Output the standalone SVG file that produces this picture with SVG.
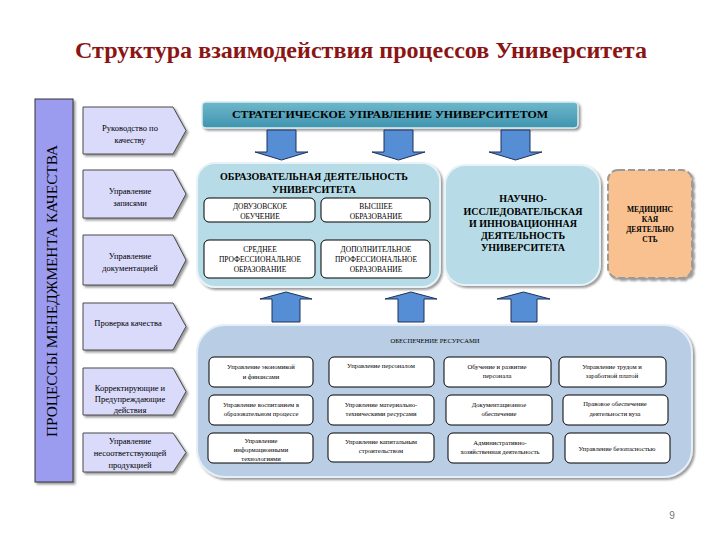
<svg xmlns="http://www.w3.org/2000/svg" width="720" height="540" viewBox="0 0 720 540">
<style>
text{font-family:"Liberation Serif","Times New Roman",serif;text-anchor:middle;fill:#000}
.title{font-size:23px;font-weight:bold;fill:#8b1515}
.vert{font-size:14px}
.lbox{fill:#dadafb;stroke:#4a4a4a;stroke-width:1}
.lt{font-size:8.5px}
.panel{fill:#b7dce7;stroke:#e8f3f7;stroke-width:2}
.bpanel{fill:#b9cde5;stroke:#e6eef7;stroke-width:2}
.wbox{fill:#fff;stroke:#000;stroke-width:1}
.bt{font-size:10px;font-weight:bold}
.st{font-size:7.5px}
.sm{font-size:6.6px}
.arrow{fill:#558ed5;stroke:#1f3058;stroke-width:1}
</style>
<defs>
<filter id="sh" x="-10%" y="-10%" width="130%" height="130%">
<feDropShadow dx="2" dy="2" stdDeviation="1.2" flood-color="#555" flood-opacity="0.6"/>
</filter>
<linearGradient id="teal" x1="0" y1="0" x2="0" y2="1">
<stop offset="0" stop-color="#6fb8cc"/>
<stop offset="1" stop-color="#3f94ae"/>
</linearGradient>
</defs>
<rect width="720" height="540" fill="#fff"/>
<text class="title" x="361" y="58" textLength="572" lengthAdjust="spacingAndGlyphs">Структура взаимодействия процессов Университета</text>

<g id="qm-bar">
<rect x="35" y="99" width="38" height="383" fill="#9b9bef" stroke="#333" stroke-width="1" filter="url(#sh)"/>
<text class="vert" transform="translate(57,291) rotate(-90)" textLength="292" lengthAdjust="spacingAndGlyphs">ПРОЦЕССЫ МЕНЕДЖМЕНТА КАЧЕСТВА</text>
</g>

<g id="left1"><path class="lbox" filter="url(#sh)" d="M83,107H173L186,130.5L173,154H83Z"/>
<text class="lt" x="130" y="131">Руководство по</text><text class="lt" x="130" y="143">качеству</text></g>
<g id="left2"><path class="lbox" filter="url(#sh)" d="M83,170H173L186,194L173,218H83Z"/>
<text class="lt" x="130" y="194">Управление</text><text class="lt" x="130" y="206">записями</text></g>
<g id="left3"><path class="lbox" filter="url(#sh)" d="M83,235H173L186,260L173,285H83Z"/>
<text class="lt" x="130" y="259">Управление</text><text class="lt" x="130" y="271">документацией</text></g>
<g id="left4"><path class="lbox" filter="url(#sh)" d="M83,303H173L186,326.5L173,350H83Z"/>
<text class="lt" x="128" y="326">Проверка качества</text></g>
<g id="left5"><path class="lbox" filter="url(#sh)" d="M83,368H173L186,391.5L173,415H83Z"/>
<text class="lt" x="130" y="391">Корректирующие и</text><text class="lt" x="130" y="402">Предупреждающие</text><text class="lt" x="130" y="413">действия</text></g>
<g id="left6"><path class="lbox" filter="url(#sh)" d="M83,433H173L186,452.5L173,472H83Z"/>
<text class="lt" x="130" y="444">Управление</text><text class="lt" x="130" y="456">несоответствующей</text><text class="lt" x="130" y="468">продукцией</text></g>

<g id="strategic">
<rect x="202" y="102" width="376" height="26" rx="4" fill="url(#teal)" stroke="#d8eef4" stroke-width="1.5" filter="url(#sh)"/>
<text class="bt" x="390" y="118" textLength="316" lengthAdjust="spacingAndGlyphs">СТРАТЕГИЧЕСКОЕ УПРАВЛЕНИЕ УНИВЕРСИТЕТОМ</text>
</g>

<g id="connectors">
<path class="arrow" d="M267,130h29v22h12l-26.5,8l-26.5,-8h12z"/>
<path class="arrow" d="M384,130h29v22h12l-26.5,8l-26.5,-8h12z"/>
<path class="arrow" d="M501,130h29v22h12l-26.5,8l-26.5,-8h12z"/>
<path class="arrow" d="M272,322v-23h-12l26,-7l26,7h-12v23z"/>
<path class="arrow" d="M398,322v-23h-13l26,-7l26,7h-13v23z"/>
<path class="arrow" d="M511,322v-23h-14l26.5,-7l26.5,7h-13v23z"/>
</g>

<g id="education">
<rect class="panel" x="197" y="163" width="243" height="124" rx="18" filter="url(#sh)"/>
<text class="bt" x="314" y="180" textLength="188" lengthAdjust="spacingAndGlyphs">ОБРАЗОВАТЕЛЬНАЯ ДЕЯТЕЛЬНОСТЬ</text>
<text class="bt" x="314" y="193">УНИВЕРСИТЕТА</text>
<g id="edu-pre"><rect class="wbox" x="204" y="198" width="111" height="24" rx="5"/>
<text class="st" x="260" y="209">ДОВУЗОВСКОЕ</text><text class="st" x="260" y="219">ОБУЧЕНИЕ</text></g>
<g id="edu-higher"><rect class="wbox" x="321" y="198" width="109" height="24" rx="5"/>
<text class="st" x="376" y="209">ВЫСШЕЕ</text><text class="st" x="376" y="219">ОБРАЗОВАНИЕ</text></g>
<g id="edu-secondary"><rect class="wbox" x="204" y="240" width="111" height="38" rx="5"/>
<text class="st" x="260" y="252">СРЕДНЕЕ</text><text class="st" x="260" y="262">ПРОФЕССИОНАЛЬНОЕ</text><text class="st" x="260" y="272">ОБРАЗОВАНИЕ</text></g>
<g id="edu-additional"><rect class="wbox" x="321" y="240" width="109" height="38" rx="5"/>
<text class="st" x="376" y="252">ДОПОЛНИТЕЛЬНОЕ</text><text class="st" x="376" y="262">ПРОФЕССИОНАЛЬНОЕ</text><text class="st" x="376" y="272">ОБРАЗОВАНИЕ</text></g>
</g>

<g id="science">
<rect class="panel" x="445" y="165" width="155" height="120" rx="20" filter="url(#sh)"/>
<text class="bt" x="523" y="202">НАУЧНО-</text>
<text class="bt" x="523" y="215">ИССЛЕДОВАТЕЛЬСКАЯ</text>
<text class="bt" x="523" y="227">И ИННОВАЦИОННАЯ</text>
<text class="bt" x="523" y="239">ДЕЯТЕЛЬНОСТЬ</text>
<text class="bt" x="523" y="251">УНИВЕРСИТЕТА</text>
</g>

<g id="medical">
<rect x="608" y="170" width="84" height="108" rx="10" fill="#f9c190" stroke="#9a9a9a" stroke-width="2" stroke-dasharray="7,3" filter="url(#sh)"/>
<text class="st" x="650" y="212" font-weight="bold">МЕДИЦИНС</text>
<text class="st" x="650" y="222" font-weight="bold">КАЯ</text>
<text class="st" x="650" y="232" font-weight="bold">ДЕЯТЕЛЬНО</text>
<text class="st" x="650" y="242" font-weight="bold">СТЬ</text>
</g>

<g id="resources">
<rect class="bpanel" x="197" y="325" width="495" height="152" rx="28" filter="url(#sh)"/>
<text class="sm" x="435" y="343">ОБЕСПЕЧЕНИЕ РЕСУРСАМИ</text>
<g id="r-econ"><rect class="wbox" x="209" y="357" width="104" height="30" rx="5"/>
<text class="sm" x="261" y="369">Управление экономикой</text><text class="sm" x="261" y="379">и финансами</text></g>
<g id="r-staff"><rect class="wbox" x="329" y="357" width="105" height="30" rx="5"/>
<text class="sm" x="381" y="368">Управление персоналом</text></g>
<g id="r-training"><rect class="wbox" x="444" y="357" width="107" height="30" rx="5"/>
<text class="sm" x="497" y="369">Обучение и развитие</text><text class="sm" x="497" y="378">персонала</text></g>
<g id="r-labor"><rect class="wbox" x="559" y="357" width="107" height="30" rx="5"/>
<text class="sm" x="612" y="369">Управление трудом и</text><text class="sm" x="612" y="378">заработной платой</text></g>
<g id="r-edu"><rect class="wbox" x="209" y="395" width="104" height="30" rx="5"/>
<text class="sm" x="261" y="407">Управление воспитанием в</text><text class="sm" x="261" y="416">образовательном процессе</text></g>
<g id="r-material"><rect class="wbox" x="328" y="395" width="106" height="30" rx="5"/>
<text class="sm" x="381" y="407">Управление материально-</text><text class="sm" x="381" y="416">техническими ресурсами</text></g>
<g id="r-docs"><rect class="wbox" x="446" y="395" width="106" height="30" rx="5"/>
<text class="sm" x="499" y="407">Документационное</text><text class="sm" x="499" y="416">обеспечение</text></g>
<g id="r-legal"><rect class="wbox" x="563" y="395" width="105" height="30" rx="5"/>
<text class="sm" x="615" y="406">Правовое обеспечение</text><text class="sm" x="615" y="416">деятельности вуза</text></g>
<g id="r-it"><rect class="wbox" x="208" y="433" width="105" height="30" rx="5"/>
<text class="sm" x="261" y="443">Управление</text><text class="sm" x="261" y="452">информационными</text><text class="sm" x="261" y="461">технологиями</text></g>
<g id="r-construction"><rect class="wbox" x="328" y="433" width="106" height="29" rx="5"/>
<text class="sm" x="381" y="444">Управление капитальным</text><text class="sm" x="381" y="453">строительством</text></g>
<g id="r-admin"><rect class="wbox" x="448" y="433" width="105" height="30" rx="5"/>
<text class="sm" x="500" y="445">Административно-</text><text class="sm" x="500" y="454">хозяйственная деятельность</text></g>
<g id="r-security"><rect class="wbox" x="565" y="433" width="105" height="30" rx="5"/>
<text class="sm" x="617" y="451">Управление безопасностью</text></g>
</g>

<text x="672" y="519" style="font-family:'Liberation Sans',Arial,sans-serif;font-size:10px;fill:#777">9</text>
</svg>
